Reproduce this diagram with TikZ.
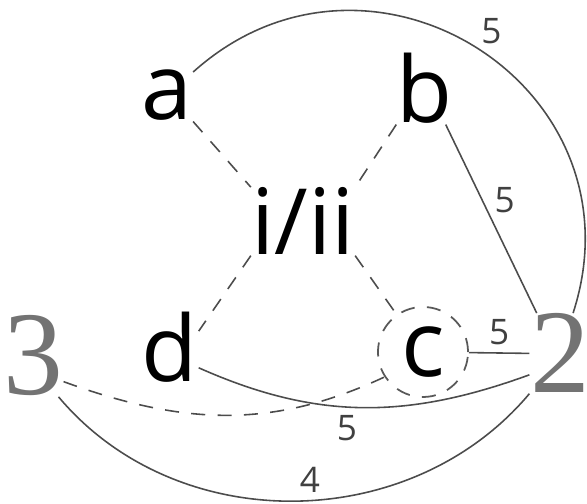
\documentclass[tikz,border=0pt]{standalone}
\usepackage{fontspec}
\setmainfont{Open Sans}
\newfontfamily\numfont{Liberation Serif}
\usetikzlibrary{positioning}

\begin{document}
\begin{tikzpicture}[
    x=0.01cm, y=0.01cm,
    vertex/.style={inner sep=0pt, anchor=base, font=\fontsize{26}{30}\selectfont},
    big/.style={inner sep=0pt, anchor=base, text=black!55, font=\numfont\fontsize{34}{40}\selectfont},
    ring/.style={circle, draw=black!65, line width=0.5pt, dash pattern=on 4pt off 3.5pt,
                 minimum size=0.9cm, inner sep=0pt, font=\fontsize{26}{30}\selectfont},
    link/.style={draw=black!70, line width=0.45pt},
    dlink/.style={link, dash pattern=on 4pt off 3.5pt},
    wt/.style={text=black!75, font=\fontsize{10}{12}\selectfont},
]
\useasboundingbox (0,0) rectangle (587,504);

\node[vertex] (a) at (167,384) {a};
\node[vertex] (b) at (425,381) {b};
\node[vertex] (ii) at (303,249) {i/ii};
\node[vertex] (d) at (170,122) {d};
\node[ring] (c) at (423,152) {c};
\node[big] (three) at (33,109) {3};
\node[big] (two) at (560,111) {2};

% dashed spokes round i/ii
\foreach \u/\v in {a.south east/ii.north west, b.south west/ii.north east, ii.south west/d.30, ii.south east/c}
    \draw[dlink] (\u) -- (\v);

\draw[link] (a) to[out=42, in=72, looseness=1.35] node[wt, pos=0.5, above right, inner sep=1pt] {5} (two);
\draw[link] (b.-60) -- node[wt, pos=0.4, right] {5} (two.120);
\draw[link] (c) -- node[wt, above, inner sep=2pt] {5} (two.west);
\draw[link] (d.-35) to[out=-24, in=200] node[wt, pos=0.45, below, inner sep=2pt] {5} (two.215);
\draw[dlink] (three.-40) to[out=-20, in=205] (c.213);
\draw[link] (three.-58) to[out=-50, in=230] node[wt, pos=0.53, above, inner sep=2pt] {4} (two.south west);

\end{tikzpicture}
\end{document}
